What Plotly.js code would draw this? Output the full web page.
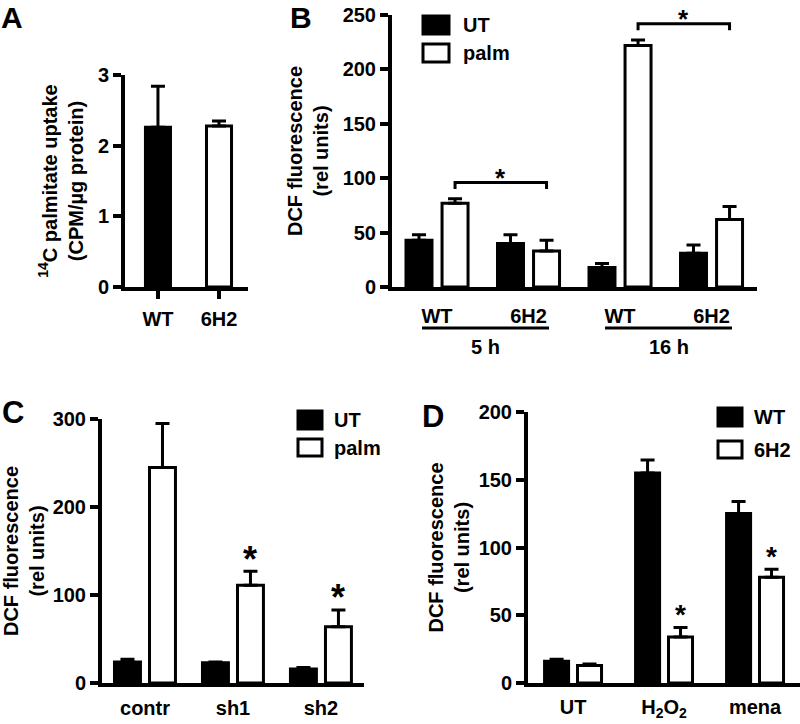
<!DOCTYPE html>
<html><head><meta charset="utf-8">
<script src="https://cdn.plot.ly/plotly-3.0.1.min.js"></script>
<style>html,body{margin:0;padding:0;background:#fff}</style>
</head><body><div id="chart" style="width:800px;height:724px"></div>
<script>
// ---------- Panel A ----------
const aCategories = ["WT", "6H2"];
const aValues = [2.26, 2.28];
const aErrors = [0.58, 0.07];
const aTitle = "<sup>14</sup>C palmitate uptake<br>(CPM/µg protein)";
// ---------- Panel B ----------
const bCategories = ["WT", "6H2", "WT", "6H2"];
const bTimes = ["5 h", "16 h"];
const bSeries = ["UT", "palm"];
const bUT = [43, 40, 18, 31];
const bUTErr = [5, 8, 3.5, 7.5];
const bPalm = [77, 33, 222, 62];
const bPalmErr = [4, 10, 5, 12];
const bBrackets = [[0, 1], [2, 3]];
const bBracketY = [96, 242];
// ---------- Panel C ----------
const cCategories = ["contr", "sh1", "sh2"];
const cSeries = ["UT", "palm"];
const cUT = [24, 23, 16];
const cUTErr = [3, 1, 1.5];
const cPalm = [245, 111, 64];
const cPalmErr = [50, 16, 19];
const cStars = [false, true, true];
// ---------- Panel D ----------
const dCategories = ["UT", "H<sub>2</sub>O<sub>2</sub>", "mena"];
const dSeries = ["WT", "6H2"];
const dWT = [16, 155, 125];
const dWTErr = [1.5, 9.5, 9];
const d6H2 = [13, 34, 78];
const d6H2Err = [1, 7, 6];
const dStars = [false, true, true];
const dcfTitle = "DCF fluorescence<br>(rel units)";

const FONT = "Liberation Sans, Arial, Helvetica, sans-serif";
const W = 800, H = 724;
const px = v => v / W;
const py = v => 1 - v / H;
const idx = a => a.map((_, i) => i);

function bar(n, vals, errs, fill, offset, width) {
  return {
    type: "bar", x: idx(vals), y: vals, xaxis: "x" + n, yaxis: "y" + n,
    offset: offset, width: width, hoverinfo: "skip",
    marker: {color: fill, line: {color: "#000", width: 3}},
    error_y: {type: "data", symmetric: false, array: errs, arrayminus: errs.map(() => 0),
              color: "#000", thickness: 3, width: 7}
  };
}
function yax(n, top, bottom, max, dtick, title, standoff) {
  return {
    domain: [py(bottom), py(top)], range: [0, max], dtick: dtick, anchor: "x" + n,
    showline: true, linewidth: 4, linecolor: "#000", ticks: "outside", ticklen: 8,
    tickwidth: 4, tickcolor: "#000", showgrid: false, zeroline: false, fixedrange: true,
    tickfont: {size: 20, family: FONT, weight: "bold", color: "#000"},
    title: {text: title, font: {size: 20, family: FONT, weight: "bold", color: "#000"}, standoff: standoff}
  };
}
function xax(n, left, right, r, cats, ticks, standoff) {
  return {
    domain: [px(left), px(right)], range: r, anchor: "y" + n,
    tickvals: idx(cats), ticktext: cats,
    showline: true, linewidth: 4, linecolor: "#000",
    ticks: ticks, ticklen: 8, tickwidth: 4, tickcolor: "#000",
    showgrid: false, zeroline: false, fixedrange: true, ticklabelstandoff: standoff,
    tickfont: {size: 20, family: FONT, weight: "bold", color: "#000"}
  };
}

const traces = [];
// A
traces.push(bar("", aValues, aErrors, "#000", -0.205, 0.41));
traces[0].xaxis = "x"; traces[0].yaxis = "y";
traces[0].marker.color = ["#000", "#fff"];
// B
const bOffU = -0.339, bOffP = 0.055, bW = 0.284;
traces.push(bar("2", bUT, bUTErr, "#000", bOffU, bW));
traces.push(bar("2", bPalm, bPalmErr, "#fff", bOffP, bW));
const bPalmCenter = bOffP + bW / 2;
bBrackets.forEach((g, i) => {
  const a = g[0] + bPalmCenter, b = g[1] + bPalmCenter, y = bBracketY[i];
  traces.push({type: "scatter", mode: "lines", xaxis: "x2", yaxis: "y2", hoverinfo: "skip",
    x: [a, a, b, b], y: [y - 6, y, y, y - 6], line: {color: "#000", width: 3}});
});
// C
const cOffU = -0.347, cOffP = 0.051, cW = 0.295;
traces.push(bar("3", cUT, cUTErr, "#000", cOffU, cW));
traces.push(bar("3", cPalm, cPalmErr, "#fff", cOffP, cW));
// D
const dOffW = -0.313, dOff6 = 0.049, dW = 0.264;
traces.push(bar("4", dWT, dWTErr, "#000", dOffW, dW));
traces.push(bar("4", d6H2, d6H2Err, "#fff", dOff6, dW));

const ann = [];
const shapes = [];
const txt = (text, x, y, size, xanchor, extra) => Object.assign({
  text: text, x: x, y: y, xref: "paper", yref: "paper", showarrow: false,
  xanchor: xanchor || "center", yanchor: "middle",
  font: {size: size, family: FONT, weight: "bold", color: "#000"}}, extra || {});

// panel letters
ann.push(txt("A", px(0), 1, 30, "left", {yanchor: "top", borderpad: 0}));
ann.push(txt("B", px(289), 1, 30, "left", {yanchor: "top", borderpad: 0}));
ann.push(txt("C", px(0), py(413), 31, "left"));
ann.push(txt("D", px(420), py(417), 31, "left"));

// B stars over brackets
bBrackets.forEach((g, i) => {
  ann.push(txt("*", (g[0] + g[1]) / 2 + bPalmCenter, bBracketY[i], 26, "center",
    {xref: "x2", yref: "y2", yshift: 5}));
});
// B underlines and time labels
bTimes.forEach((t, i) => {
  const g0 = bBrackets[i][0], g1 = bBrackets[i][1];
  const x0 = g0 - 0.164, x1 = g1 + 0.224;
  shapes.push({type: "line", xref: "x2", yref: "paper", x0: x0, x1: x1, y0: py(328), y1: py(328),
    line: {color: "#000", width: 3}});
  ann.push(txt(t, (x0 + x1) / 2, py(347), 20, "center", {xref: "x2"}));
});
// C stars
cStars.forEach((s, i) => {
  if (s) ann.push(txt("*", i + cOffP + cW / 2, cPalm[i] + cPalmErr[i], 36, "center",
    {xref: "x3", yref: "y3", yshift: 12}));
});
// D stars
dStars.forEach((s, i) => {
  if (s) ann.push(txt("*", i + dOff6 + dW / 2, d6H2[i] + d6H2Err[i], 28, "center",
    {xref: "x4", yref: "y4", yshift: 13}));
});

// manual legends
function legend(series, boxL, boxR, rows, textX) {
  series.forEach((s, i) => {
    const r = rows[i];
    shapes.push({type: "rect", xref: "paper", yref: "paper",
      x0: px(boxL), x1: px(boxR), y0: py(r[1]), y1: py(r[0]),
      fillcolor: i === 0 ? "#000" : "#fff", line: {color: "#000", width: 3}});
    ann.push(txt(s, px(textX), py((r[0] + r[1]) / 2), 20, "left"));
  });
}
legend(bSeries, 423, 449, [[16, 34], [44, 62]], 461);
legend(cSeries, 298, 322, [[411, 429], [439, 456]], 332);
legend(dSeries, 718, 742, [[408, 426], [441, 458]], 752);

const layout = {
  width: W, height: H, margin: {l: 0, r: 0, t: 0, b: 0},
  paper_bgcolor: "#fff", plot_bgcolor: "#fff", showlegend: false, barmode: "overlay",
  font: {family: FONT, color: "#000"},
  xaxis: xax("", 125, 248, [-0.54, 1.475], aCategories, "outside", 3),
  yaxis: yax("", 75, 287, 3, 1, aTitle, 10),
  xaxis2: xax("2", 392, 757, [-0.492, 3.497], bCategories, "", 8),
  yaxis2: yax("2", 15, 287, 250, 50, dcfTitle, 10),
  xaxis3: xax("3", 102, 364, [-0.489, 2.489], cCategories, "", 4),
  yaxis3: yax("3", 419, 683, 300, 100, dcfTitle, 10),
  xaxis4: xax("4", 528, 800, [-0.495, 2.494], dCategories, "", 3),
  yaxis4: yax("4", 412, 683, 200, 50, dcfTitle, 5),
  annotations: ann, shapes: shapes
};
layout.xaxis.anchor = "y"; layout.yaxis.anchor = "x";
Plotly.newPlot("chart", traces, layout, {staticPlot: true});
</script></body></html>
